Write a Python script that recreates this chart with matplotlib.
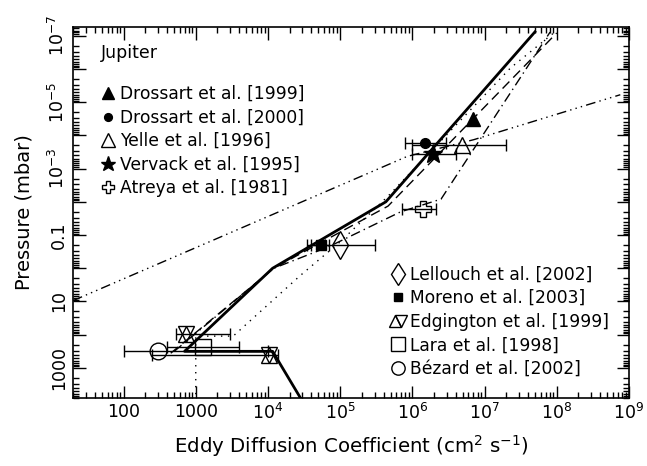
import matplotlib.pyplot as plt
from matplotlib.lines import Line2D
from matplotlib.legend_handler import HandlerTuple
from matplotlib.ticker import NullFormatter, LogLocator

# model profiles (K in cm2/s, P in mbar)
solid_k = [3.0e4, 1.16e4, 700, 1.16e4, 4.3e5, 5.0e7]
solid_p = [1.0e4, 316, 316, 1.0, 0.01, 7.7e-8]

dash_k = [450, 1.2e4, 4.6e5, 1.0e8]
dash_p = [360, 1.0, 0.0135, 8.3e-8]

dot_k = [1000, 1000, 3300, 2.8e4, 1.0e5, 4.6e5, 2.3e7, 1.0e8]
dot_p = [1.0e4, 110, 110, 1.66, 0.16, 0.0068, 9.3e-7, 7.0e-8]

dashdot_k = [500, 1.2e4, 6.8e4, 6.9e5, 2.5e6, 8.1e7]
dashdot_p = [320, 1.0, 0.23, 0.02, 8.3e-3, 7.8e-8]

dash3dot_k = [20, 8.5e5, 7.1e6, 7.6e8]
dash3dot_p = [9.4, 4.3e-4, 1.35e-4, 6.0e-6]

# observations: K, P, K error low, K error high
obs = {
    'Drossart et al. [1999]': dict(k=6.9e6, p=3.2e-5, lo=6.9e6, hi=6.9e6),
    'Drossart et al. [2000]': dict(k=1.5e6, p=1.7e-4, lo=7.8e5, hi=2.9e6),
    'Yelle et al. [1996]': dict(k=4.9e6, p=1.9e-4, lo=1.0e6, hi=2.0e7),
    'Vervack et al. [1995]': dict(k=1.95e6, p=3.7e-4, lo=1.0e6, hi=4.0e6),
    'Atreya et al. [1981]': dict(k=1.4e6, p=0.016, lo=7.1e5, hi=2.1e6),
    'Lellouch et al. [2002]': dict(k=1.0e5, p=0.2, lo=3.5e4, hi=3.0e5),
    'Moreno et al. [2003]': dict(k=5.5e4, p=0.2, lo=4.0e4, hi=7.0e4),
    'Lara et al. [1998]': dict(k=1240, p=240, lo=400, hi=4000),
    'Bézard et al. [2002]': dict(k=300, p=300, lo=100, hi=1.0e4),
}
edg_k = [730, 1.05e4]
edg_p = [96, 417]
edg_lo = [525, 250]
edg_hi = [3000, 1.4e4]

styles = {
    'Drossart et al. [1999]': dict(marker='^', ms=10, mfc='k'),
    'Drossart et al. [2000]': dict(marker='o', ms=7, mfc='k'),
    'Yelle et al. [1996]': dict(marker='^', ms=12, mfc='none'),
    'Vervack et al. [1995]': dict(marker='*', ms=14, mfc='k'),
    'Atreya et al. [1981]': dict(marker='P', ms=11, mfc='none'),
    'Lellouch et al. [2002]': dict(marker='d', ms=14, mfc='none'),
    'Moreno et al. [2003]': dict(marker='s', ms=7, mfc='k'),
    'Lara et al. [1998]': dict(marker='s', ms=12, mfc='none'),
    'Bézard et al. [2002]': dict(marker='o', ms=12, mfc='none'),
}

plt.rcParams['font.family'] = 'DejaVu Sans'
fig, ax = plt.subplots(figsize=(6.47, 4.66), dpi=100)
fig.subplots_adjust(left=0.113, right=0.972, top=0.942, bottom=0.146)

ax.plot(solid_k, solid_p, 'k-', lw=2.0, zorder=3)
ax.plot(dash_k, dash_p, 'k', lw=1.0, dashes=(7, 4))
ax.plot(dot_k, dot_p, 'k', lw=1.0, dashes=(1, 4))
ax.plot(dashdot_k, dashdot_p, 'k', lw=1.0, dashes=(7, 3, 1, 3))
ax.plot(dash3dot_k, dash3dot_p, 'k', lw=1.0, dashes=(7, 3, 1, 3, 1, 3, 1, 3))

for name, d in obs.items():
    st = styles[name]
    ax.errorbar([d['k']], [d['p']], xerr=[[d['k'] - d['lo']], [d['hi'] - d['k']]],
                fmt='none', ecolor='k', elinewidth=1.0, capsize=4, zorder=4)
    ax.plot([d['k']], [d['p']], linestyle='none', color='k', mec='k', mew=1.0, zorder=5, **st)

for k, p, lo, hi in zip(edg_k, edg_p, edg_lo, edg_hi):
    ax.errorbar([k], [p], xerr=[[k - lo], [hi - k]], fmt='none', ecolor='k',
                elinewidth=1.0, capsize=4, zorder=4)
ax.plot(edg_k, edg_p, linestyle='none', marker='^', ms=11, mfc='none', mec='k', mew=1.0, zorder=5)
ax.plot(edg_k, edg_p, linestyle='none', marker='v', ms=11, mfc='none', mec='k', mew=1.0, zorder=5)

ax.set_xscale('log')
ax.set_yscale('log')
ax.set_xlim(20, 1e9)
ax.set_ylim(8000, 5.5e-8)

xt = [100, 1000, 1e4, 1e5, 1e6, 1e7, 1e8, 1e9]
xtl = ['100', '1000', r'$10^4$', r'$10^5$', r'$10^6$', r'$10^7$', r'$10^8$', r'$10^9$']
ax.set_xticks(xt)
ax.set_xticklabels(xtl)
yt = [1e-7, 1e-6, 1e-5, 1e-4, 1e-3, 1e-2, 0.1, 1, 10, 100, 1000]
ytl = [r'$10^{-7}$', '', r'$10^{-5}$', '', r'$10^{-3}$', '', '0.1', '', '10', '', '1000']
ax.set_yticks(yt)
ax.set_yticklabels(ytl, rotation=90, va='center')
ax.yaxis.set_minor_locator(LogLocator(base=10, subs=range(2, 10), numticks=30))
ax.xaxis.set_minor_locator(LogLocator(base=10, subs=range(2, 10), numticks=30))
ax.yaxis.set_minor_formatter(NullFormatter())
ax.xaxis.set_minor_formatter(NullFormatter())
ax.tick_params(which='both', direction='in', top=True, right=True, labelsize=12.5, width=1)
ax.tick_params(which='major', length=9)
ax.tick_params(which='minor', length=4)
for s in ax.spines.values():
    s.set_linewidth(1.2)

ax.set_xlabel(r'Eddy Diffusion Coefficient (cm$^2$ s$^{-1}$)', fontsize=14.2, labelpad=7)
ax.set_ylabel('Pressure (mbar)', fontsize=14)
ax.yaxis.set_label_coords(-0.071, 0.5)

ax.text(0.05, 0.93, 'Jupiter', transform=ax.transAxes, fontsize=12.5, va='center')

names1 = ['Drossart et al. [1999]', 'Drossart et al. [2000]', 'Yelle et al. [1996]',
          'Vervack et al. [1995]', 'Atreya et al. [1981]']
h1 = []
for n in names1:
    st = dict(styles[n])
    st['ms'] = st['ms'] * 0.8
    h1.append(Line2D([], [], linestyle='none', color='k', mec='k', **st))
leg1 = ax.legend(h1, names1, loc='upper left', bbox_to_anchor=(0.035, 0.867), frameon=False,
                 fontsize=12.3, handlelength=0.8, handletextpad=0.3, labelspacing=0.33,
                 borderpad=0)
ax.add_artist(leg1)

names2 = ['Lellouch et al. [2002]', 'Moreno et al. [2003]', 'Edgington et al. [1999]',
          'Lara et al. [1998]', 'Bézard et al. [2002]']
h2 = []
for n in names2[:2]:
    st = dict(styles[n])
    st['ms'] = st['ms'] * 0.8
    h2.append(Line2D([], [], linestyle='none', color='k', mec='k', **st))
h2.append((Line2D([], [], linestyle='none', marker='^', ms=9, mfc='none', mec='k'),
           Line2D([], [], linestyle='none', marker='v', ms=9, mfc='none', mec='k')))
for n in names2[3:]:
    st = dict(styles[n])
    st['ms'] = st['ms'] * 0.8
    h2.append(Line2D([], [], linestyle='none', color='k', mec='k', **st))
ax.legend(h2, names2, loc='upper left', bbox_to_anchor=(0.557, 0.38), frameon=False,
          fontsize=12.3, handlelength=0.8, handletextpad=0.3, labelspacing=0.33, borderpad=0,
          handler_map={tuple: HandlerTuple(ndivide=None, pad=0)})

fig.savefig('out.png', dpi=100)
